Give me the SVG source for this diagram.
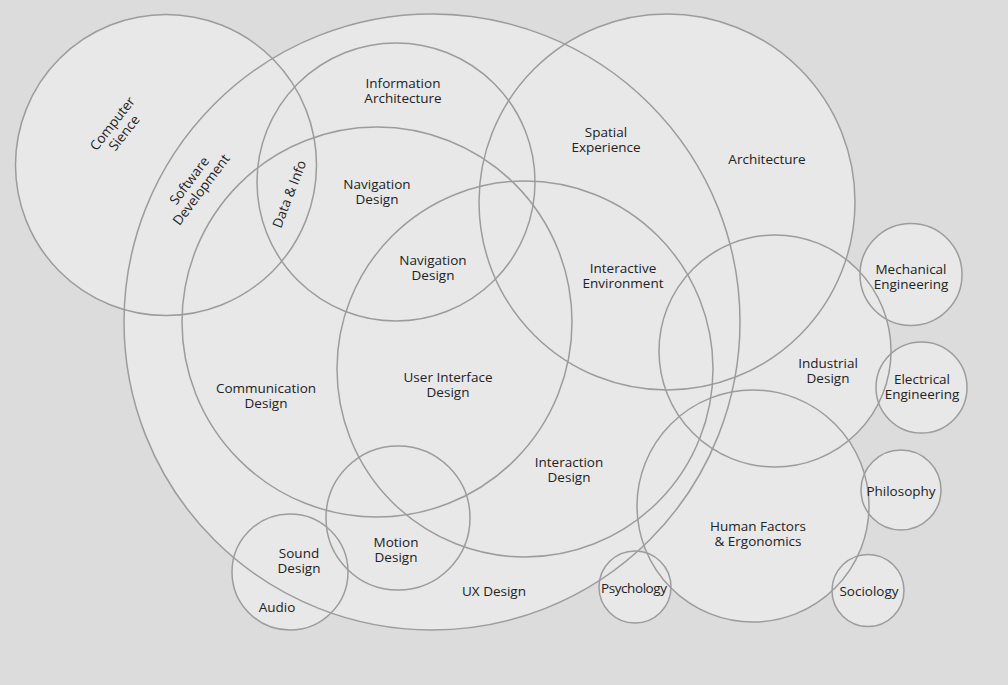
<svg xmlns="http://www.w3.org/2000/svg" width="1008" height="685" viewBox="0 0 1008 685">
<style>
.f{fill:#e8e8e8;stroke:none}
.c{fill:none;stroke:#9c9c9c;stroke-width:1.5}
text{font-family:"Open Sans","Noto Sans","DejaVu Sans",sans-serif;font-size:13.5px;fill:#222;text-anchor:middle}
</style>
<rect width="1008" height="685" fill="#dcdcdc"/>
<g id="fills">
<circle class="f" cx="166" cy="165" r="150.5"/>
<circle class="f" cx="432" cy="322" r="308"/>
<circle class="f" cx="667" cy="202" r="188"/>
<circle class="f" cx="775" cy="351" r="116"/>
<circle class="f" cx="753" cy="506" r="116"/>
<circle class="f" cx="290" cy="572" r="58"/>
<circle class="f" cx="635" cy="587" r="36"/>
<circle class="f" cx="911" cy="274.5" r="51"/>
<circle class="f" cx="921.5" cy="387.5" r="45.5"/>
<circle class="f" cx="901" cy="490" r="40"/>
<circle class="f" cx="868" cy="590.5" r="36"/>
</g>
<g id="computer-science">
<circle class="c" cx="166" cy="165" r="150.5"/>
<text transform="translate(118,128) rotate(-52)"><tspan x="0" y="-2.5">Computer</tspan><tspan x="0" y="12.5">Sience</tspan></text>
</g>
<g id="ux-design">
<circle class="c" cx="432" cy="322" r="308"/>
<text x="494" y="596">UX Design</text>
</g>
<g id="software-development">
<text transform="translate(195,185) rotate(-53)"><tspan x="0" y="-2.5">Software</tspan><tspan x="0" y="12.5">Development</tspan></text>
</g>
<g id="information-architecture">
<circle class="c" cx="396" cy="182" r="139"/>
<text><tspan x="403" y="88">Information</tspan><tspan x="403" y="103">Architecture</tspan></text>
</g>
<g id="data-info">
<text transform="translate(289,194) rotate(-69)" x="0" y="5">Data &amp; Info</text>
</g>
<g id="communication-design">
<circle class="c" cx="377" cy="322" r="195"/>
<text><tspan x="377" y="189">Navigation</tspan><tspan x="377" y="204">Design</tspan></text>
<text><tspan x="266" y="393">Communication</tspan><tspan x="266" y="408">Design</tspan></text>
</g>
<g id="user-interface-design">
<circle class="c" cx="525" cy="369" r="188"/>
<text><tspan x="433" y="265">Navigation</tspan><tspan x="433" y="280">Design</tspan></text>
<text><tspan x="448" y="382">User Interface</tspan><tspan x="448" y="397">Design</tspan></text>
</g>
<g id="interaction-design">
<text><tspan x="569" y="467">Interaction</tspan><tspan x="569" y="482">Design</tspan></text>
</g>
<g id="architecture">
<circle class="c" cx="667" cy="202" r="188"/>
<text><tspan x="606" y="137">Spatial</tspan><tspan x="606" y="152">Experience</tspan></text>
<text x="767" y="164">Architecture</text>
<text><tspan x="623" y="273">Interactive</tspan><tspan x="623" y="288">Environment</tspan></text>
</g>
<g id="industrial-design">
<circle class="c" cx="775" cy="351" r="116"/>
<text><tspan x="828" y="368">Industrial</tspan><tspan x="828" y="383">Design</tspan></text>
</g>
<g id="human-factors">
<circle class="c" cx="753" cy="506" r="116"/>
<text><tspan x="758" y="531">Human Factors</tspan><tspan x="758" y="546">&amp; Ergonomics</tspan></text>
</g>
<g id="motion-design">
<circle class="c" cx="398" cy="518" r="72"/>
<text><tspan x="396" y="547">Motion</tspan><tspan x="396" y="562">Design</tspan></text>
</g>
<g id="sound-design">
<circle class="c" cx="290" cy="572" r="58"/>
<text><tspan x="299" y="558">Sound</tspan><tspan x="299" y="573">Design</tspan></text>
<text x="277" y="612">Audio</text>
</g>
<g id="psychology">
<circle class="c" cx="635" cy="587" r="36"/>
<text x="634" y="593" textLength="66">Psychology</text>
</g>
<g id="mechanical-engineering">
<circle class="c" cx="911" cy="274.5" r="51"/>
<text><tspan x="911" y="274">Mechanical</tspan><tspan x="911" y="289">Engineering</tspan></text>
</g>
<g id="electrical-engineering">
<circle class="c" cx="921.5" cy="387.5" r="45.5"/>
<text><tspan x="922" y="384">Electrical</tspan><tspan x="922" y="399">Engineering</tspan></text>
</g>
<g id="philosophy">
<circle class="c" cx="901" cy="490" r="40"/>
<text x="901" y="496">Philosophy</text>
</g>
<g id="sociology">
<circle class="c" cx="868" cy="590.5" r="36"/>
<text x="869" y="596">Sociology</text>
</g>
<g id="connectors"/>
</svg>
